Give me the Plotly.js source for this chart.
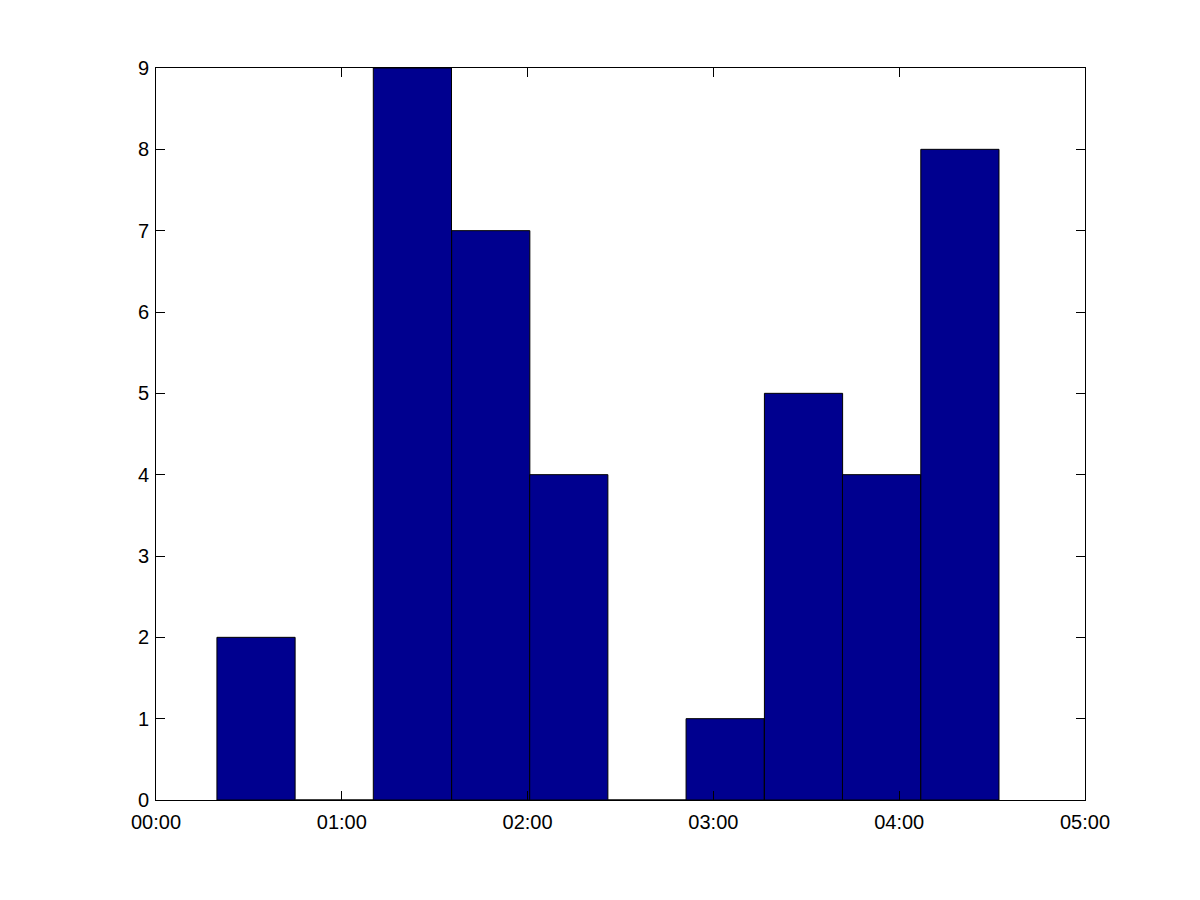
<!DOCTYPE html>
<html>
<head>
<meta charset="utf-8">
<script src="https://cdn.plot.ly/plotly-3.0.1.min.js"></script>
<style>html,body{margin:0;padding:0;background:#fff;}#chart{width:1200px;height:900px;}</style>
</head>
<body>
<div id="chart"></div>
<script>
// Bin centers in minutes after 00:00
const binCenters = [32.3, 57.6, 82.8, 108.1, 133.3, 158.6, 183.8, 209.1, 234.3, 259.6];
const counts = [2, 0, 9, 7, 4, 0, 1, 5, 4, 8];
const binWidth = 25.25;
const xTickVals = [0, 60, 120, 180, 240, 300];
const xTickText = ["00:00", "01:00", "02:00", "03:00", "04:00", "05:00"];
const yTickVals = [0, 1, 2, 3, 4, 5, 6, 7, 8, 9];

const trace = {
  type: 'bar',
  x: binCenters,
  y: counts,
  width: binWidth,
  marker: {color: '#00008F', line: {color: '#000000', width: 1}},
  hoverinfo: 'x+y'
};

const axisFont = {family: 'Liberation Sans, Arial, Helvetica, sans-serif', size: 20, color: '#000'};

const layout = {
  width: 1200, height: 900,
  margin: {l: 156, r: 115, t: 68, b: 100, pad: 0},
  paper_bgcolor: '#fff', plot_bgcolor: '#fff',
  showlegend: false,
  bargap: 0,
  xaxis: {
    range: [0, 300], tickmode: 'array', tickvals: xTickVals, ticktext: xTickText,
    ticks: 'inside', ticklen: 9, tickcolor: '#000', tickwidth: 1,
    showline: true, linecolor: '#000', linewidth: 1, mirror: 'ticks',
    showgrid: false, zeroline: false, tickfont: axisFont, fixedrange: true,
    ticklabelstandoff: 4
  },
  yaxis: {
    range: [0, 9], tickmode: 'array', tickvals: yTickVals,
    ticks: 'inside', ticklen: 9, tickcolor: '#000', tickwidth: 1,
    showline: true, linecolor: '#000', linewidth: 1, mirror: 'ticks',
    showgrid: false, zeroline: false, tickfont: axisFont, fixedrange: true,
    ticklabelstandoff: 2
  }
};

Plotly.newPlot('chart', [trace], layout, {displayModeBar: false, staticPlot: true});
</script>
</body>
</html>
